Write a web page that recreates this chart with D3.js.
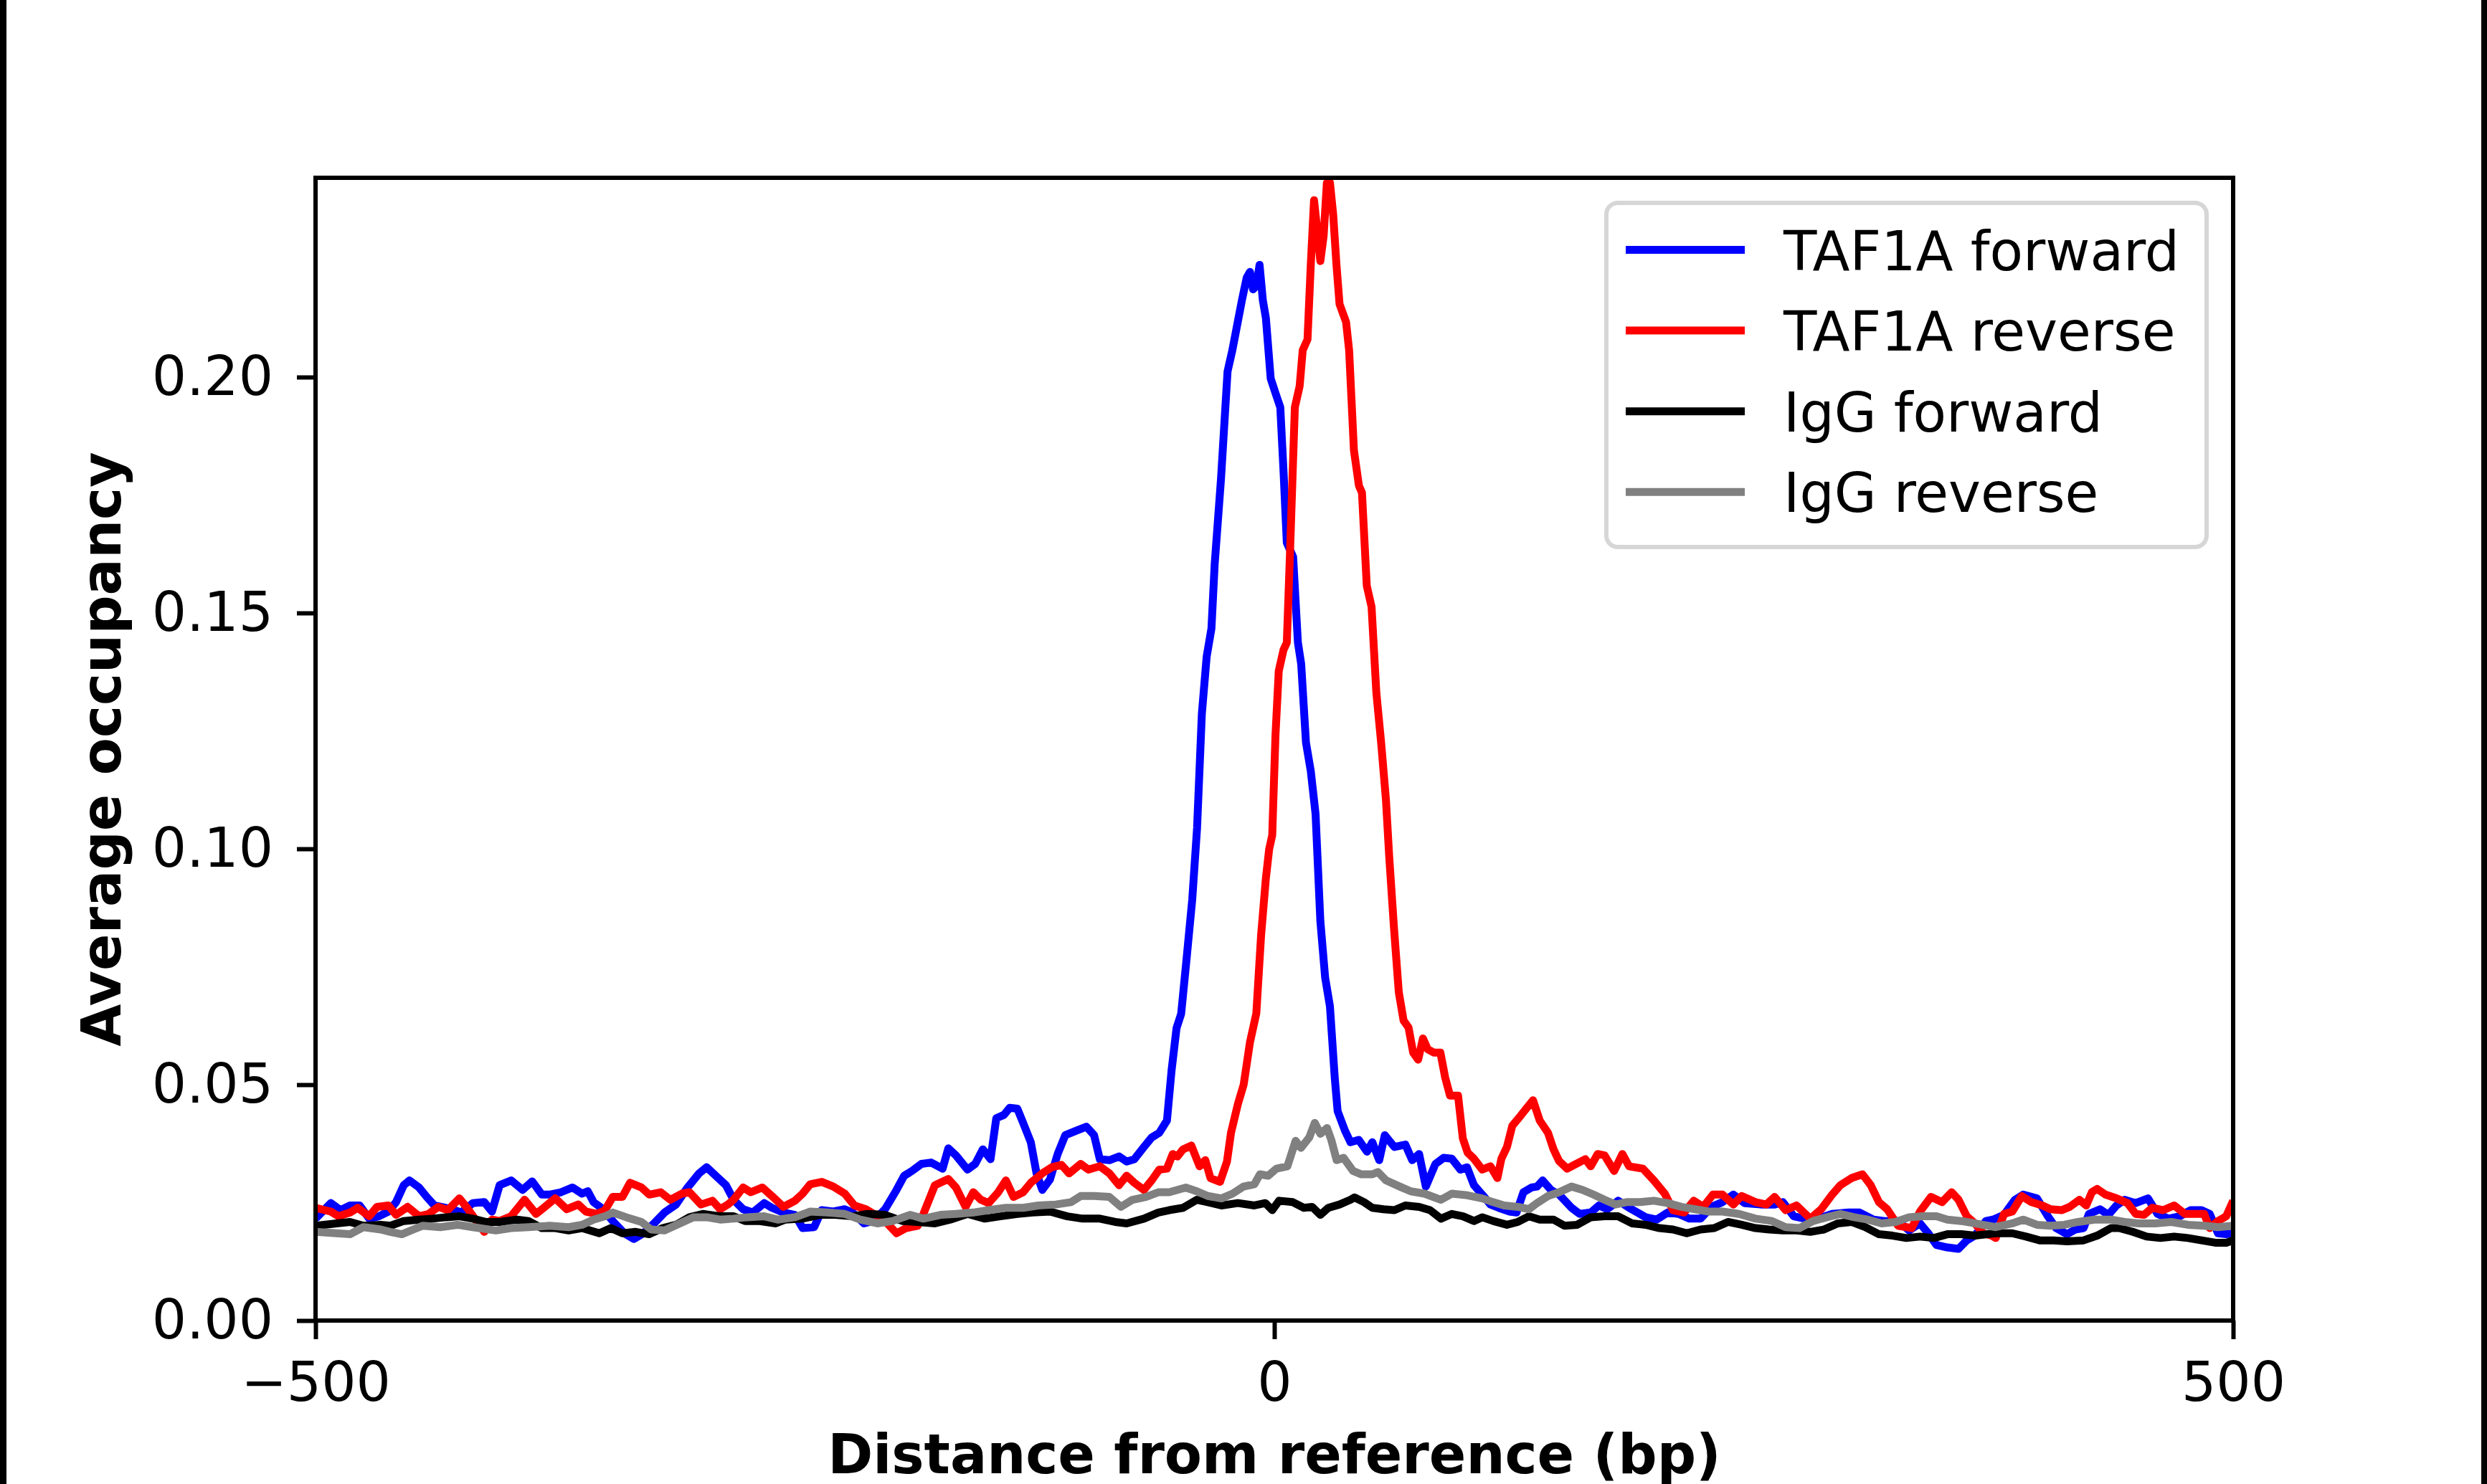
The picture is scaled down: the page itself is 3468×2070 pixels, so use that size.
<!DOCTYPE html>
<html>
<head>
<meta charset="utf-8">
<script src="https://cdn.jsdelivr.net/npm/d3@7"></script>
<style>
  body { margin: 0; background: #fff; }
  text { font-family: "DejaVu Sans", sans-serif; }
</style>
</head>
<body>
<div id="chart-area"></div>
<script>

// TAF1A forward (blue)
var taf1aFwdBp = [-500,-492,-487,-482,-477,-472,-467,-462,-458,-454,-451,-446,-442,-438,-429,-424,-418,-412,-408,-404,-398,-392,-387,-382,-378,-372,-366,-361,-358,-355,-351,-345,-339,-334,-329,-323,-318,-312,-306,-300,-296,-290,-286,
  -282,-277,-272,-266,-262,-256,-250,-246,-240,-236,-230,-224,-220,-214,-209,-203,-197,-193,-189,-184,-179,-173,-170,-166,-160,-156,-152,-148,-145,-141,-138,-134,-131,-127,-124,-121,-117,-113,-109,-103,-98,-94,-91,-86,-81,-77,-73,-68,-64,-60,
  -56,-53.6,-51,-48.6,-46,-42.8,-40.3,-37.8,-35.3,-32.8,-31.1,-27.8,-24.4,-21.9,-19.4,-16.9,-14.4,-12.7,-11.1,-9.4,-7.7,-6,-4.4,-1.9,0.6,3.1,4.8,6.5,9.8,12.3,14,16.5,19,21.5,24,26.5,29,31.5,
  33,36.8,39.7,44,48.3,51.1,54.7,57.6,62.6,68.3,71.9,75.5,79,84,88.3,92.6,97,100.5,104.1,108.4,112.7,117,122.7,126.3,129.9,134.1,137,139.9,144.2,148.5,
  155,159.3,165,169.3,173.6,179.3,185,189.3,193.6,199.4,205.1,210.8,216.5,222.3,228,233.7,239.4,245.2,253.7,260.9,265.2,270.9,276.6,283.8,290.9,299.5,305.2,312.4,318.1,325.3,331,336.7,341,345.3,351,356.8,361.1,365.3,371.1,
  374.8,380.5,386.2,390.5,397.7,403.4,407.7,413.4,417.7,422,424.8,430.6,434.9,439.2,443.4,449.2,455.6,460.6,466.3,472.1,477.8,483.5,487.8,492.1,496.4,500];
var taf1aFwdOcc = [0.0216,0.0249,0.0234,0.0244,0.0244,0.0216,0.0221,0.0231,0.0251,0.0287,0.0297,0.0282,0.0262,0.0244,0.0236,0.0229,0.0249,0.0251,0.0231,0.0287,0.0297,0.0277,0.0295,0.0267,0.0267,0.0272,0.0282,0.0269,0.0274,0.0251,0.0239,0.0211,0.0185,0.0173,0.0185,0.0208,0.0229,0.0246,0.0282,0.0312,0.0325,0.0302,0.0287,
  0.0256,0.0236,0.0229,0.0249,0.0239,0.0229,0.0224,0.0196,0.0198,0.0234,0.0231,0.0236,0.0229,0.0206,0.0211,0.0236,0.0277,0.0307,0.0317,0.0332,0.0335,0.0322,0.0365,0.0350,0.0320,0.0332,0.0363,0.0342,0.0429,0.0436,0.0451,0.0449,0.0419,0.0378,0.0312,0.0277,0.0299,0.0353,0.0393,0.0403,0.0411,0.0393,0.0342,0.0340,0.0348,0.0337,0.0342,0.0368,0.0388,0.0398,
  0.0424,0.0530,0.0620,0.0650,0.0757,0.0893,0.1044,0.1286,0.1407,0.1467,0.1604,0.1785,0.2012,0.2057,0.2110,0.2163,0.2211,0.2223,0.2186,0.2193,0.2238,0.2163,0.2125,0.1997,0.1966,0.1936,0.1800,0.1649,0.1619,0.1437,0.1392,0.1225,0.1165,0.1074,0.0847,0.0727,0.0666,0.0515,
  0.0444,0.0403,0.0378,0.0383,0.0358,0.0378,0.0340,0.0393,0.0368,0.0373,0.0340,0.0353,0.0284,0.0332,0.0345,0.0343,0.0320,0.0325,0.0287,0.0267,0.0246,0.0239,0.0231,0.0229,0.0272,0.0282,0.0284,0.0297,0.0277,0.0267,
  0.0239,0.0226,0.0229,0.0244,0.0236,0.0254,0.0239,0.0229,0.0219,0.0214,0.0229,0.0226,0.0216,0.0216,0.0241,0.0251,0.0267,0.0249,0.0246,0.0246,0.0251,0.0221,0.0216,0.0216,0.0226,0.0229,0.0229,0.0214,0.0211,0.0211,0.0191,0.0206,0.0185,0.0160,0.0155,0.0152,0.0170,0.0180,0.0211,
  0.0214,0.0224,0.0256,0.0267,0.0259,0.0221,0.0196,0.0183,0.0193,0.0196,0.0226,0.0236,0.0224,0.0244,0.0256,0.0249,0.0259,0.0226,0.0216,0.0221,0.0234,0.0234,0.0226,0.0185,0.0183,0.0185];

// TAF1A reverse (red)
var taf1aRevBp = [-500,-492,-488,-482,-478,-472,-468,-462,-458,-452,-446,-441,-436,-431,-425,-421,-416,-412,-408,-404,-398,-391,-385,-381,-375,-369,-363,-359,-353,-349,-345,-340,-336,-330,-326,-320,-315,-309,-305,-299,-293,-289,-285,
  -282,-277,-273,-267,-262,-256,-250,-246,-242,-236,-230,-224,-219,-213,-209,-203,-197,-192,-186,-183,-177,-170,-166,-161,-157,-153,-149,-144,-140,-136,-131,-127,-121,-116,-111,-107,-101,-97,-91,-86,-81,-77,-73,-68,-64,-60,
  -56,-53,-50.5,-47.6,-43.3,-39,-36,-33.3,-28.3,-24.7,-22.6,-19,-16,
  -12.7,-9.4,-6.9,-4.4,-2.7,-1.1,0.6,2.3,4.8,6.5,8.1,10.7,13.2,14.8,17.3,19,20.7,22.3,24,25.7,27.4,29,30.7,32.4,34,37.4,39,41.5,44.1,45.7,48.2,50.7,53.2,55.7,58.2,59.9,62.4,64.9,67.4,70,72.4,75,77.5,80,83.3,86.6,89.1,91.6,95.8,98.3,100.8,
  104.1,108.4,112.7,116.3,118.4,121.3,124.1,128.4,131.3,134.9,138.4,142.7,145.6,148.5,152.7,
  156.4,162.2,165,168.6,172.2,177.2,181.5,185,192.2,197.9,203.6,207.9,213.7,218.7,223.7,228.7,233.7,239.4,243.7,250.9,256.6,260.9,266.6,272.3,279.5,285.2,290.9,295.2,301,306.7,311,315.3,319.6,325.3,332.4,336.7,342.4,348.2,353.2,356.8,361.1,365.3,369.6,374,
  376.2,380.5,384.8,389.8,394.8,400.5,404.8,410.5,414.8,419.8,423.4,426.3,429.1,433.4,439.2,444.9,449.2,453.5,457.8,463.5,469.2,474.9,480.7,484.9,487.8,492.1,496.4,500];
var taf1aRevOcc = [0.0239,0.0231,0.0221,0.0229,0.0239,0.0221,0.0241,0.0244,0.0224,0.0241,0.0221,0.0226,0.0241,0.0234,0.0259,0.0239,0.0211,0.0188,0.0214,0.0211,0.0221,0.0256,0.0226,0.0239,0.0259,0.0236,0.0246,0.0231,0.0226,0.0234,0.0262,0.0262,0.0292,0.0282,0.0267,0.0272,0.0256,0.0269,0.0272,0.0246,0.0254,0.0236,0.0246,
  0.0256,0.0282,0.0272,0.0282,0.0264,0.0241,0.0254,0.0269,0.0289,0.0294,0.0284,0.0269,0.0244,0.0236,0.0226,0.0211,0.0185,0.0196,0.0201,0.0226,0.0287,0.0300,0.0282,0.0241,0.0272,0.0256,0.0249,0.0272,0.0297,0.0262,0.0272,0.0292,0.0312,0.0325,0.0330,0.0312,0.0332,0.0320,0.0327,0.0312,0.0287,0.0307,0.0292,0.0277,0.0297,0.0320,
  0.0322,0.0353,0.0348,0.0363,0.0371,0.0327,0.0340,0.0302,0.0294,0.0337,0.0398,0.0459,0.0500,
  0.0590,0.0651,0.0817,0.0938,0.0999,0.1029,0.1241,0.1377,0.1422,0.1437,0.1619,0.1936,0.1981,0.2057,0.2080,0.2238,0.2375,0.2314,0.2246,0.2299,0.2412,0.2412,0.2344,0.2238,0.2155,0.2117,0.2057,0.1845,0.1770,0.1755,0.1558,0.1513,0.1331,0.1225,0.1104,0.0984,0.0832,0.0696,0.0636,0.0621,0.0568,0.0553,0.0598,0.0575,0.0568,0.0568,0.0515,0.0477,0.0477,0.0386,0.0356,
  0.0343,0.0320,0.0327,0.0302,0.0343,0.0368,0.0413,0.0434,0.0449,0.0467,0.0424,0.0398,0.0363,0.0338,0.0322,
  0.0330,0.0342,0.0327,0.0353,0.0350,0.0317,0.0353,0.0327,0.0322,0.0297,0.0269,0.0234,0.0229,0.0254,0.0241,0.0267,0.0267,0.0246,0.0264,0.0251,0.0246,0.0262,0.0234,0.0244,0.0216,0.0236,0.0267,0.0287,0.0302,0.0310,0.0287,0.0251,0.0236,0.0201,0.0196,0.0231,0.0262,0.0251,0.0272,0.0256,0.0221,0.0206,0.0185,0.0180,
  0.0175,0.0226,0.0231,0.0264,0.0251,0.0244,0.0236,0.0234,0.0241,0.0256,0.0244,0.0272,0.0279,0.0267,0.0259,0.0249,0.0226,0.0224,0.0239,0.0234,0.0244,0.0226,0.0226,0.0226,0.0196,0.0211,0.0221,0.0254];

// IgG forward (black)
var iggFwdBp = [-500,-489,-482,-475,-466,-461,-454,-446,-439,-432,-425,-418,-411,-404,-395,-389,-382,-375,-368,-361,-352,-346,-340,-333,-326,-319,-312,-305,-298,-289,
  -282,-276,-269,-260,-255,-246,-237,-229,-220,-212,-203,-194,-186,-177,-169,-160,-151,-143,-134,-126,-117,-108,-100,-91,-83,-77,-68,
  -60.5,-54.8,-47.6,-40.4,-34.7,-27.6,-19,-10.4,-4.7,-1.1,2.5,9.6,15.4,19.7,24,28.2,34,39.7,41.8,46.8,51.1,56.9,62.6,68.3,75.5,81.2,86.9,92.6,98.4,104.1,108.4,114.1,121.3,127,132.7,138.4,145.6,151.3,
  157.9,165,172.2,179.3,186.5,193.6,200.8,207.9,215.1,222.3,229.4,236.6,243.7,250.9,258,265.2,272.3,279.5,286.6,293.8,301,308.1,315.3,322.4,329.6,336.7,343.9,351,358.2,365.3,
  376.2,384.8,392,399.1,406.3,413.4,422,429.1,436.3,440.6,447.7,454.9,462.1,469.2,476.4,483.5,490.7,496.4,500];
var iggFwdOcc = [0.0201,0.0206,0.0209,0.0201,0.0203,0.0201,0.0211,0.0214,0.0216,0.0219,0.0221,0.0216,0.0209,0.0209,0.0214,0.0211,0.0196,0.0196,0.0191,0.0196,0.0185,0.0196,0.0185,0.0188,0.0183,0.0196,0.0203,0.0219,0.0226,0.0221,
  0.0221,0.0211,0.0211,0.0206,0.0214,0.0216,0.0224,0.0224,0.0221,0.0226,0.0224,0.0211,0.0209,0.0206,0.0214,0.0226,0.0216,0.0221,0.0226,0.0229,0.0231,0.0221,0.0216,0.0216,0.0209,0.0206,0.0216,
  0.0229,0.0234,0.0239,0.0256,0.0251,0.0244,0.0249,0.0244,0.0249,0.0234,0.0254,0.0251,0.0239,0.0241,0.0224,0.0239,0.0246,0.0256,0.0261,0.0251,0.0239,0.0236,0.0234,0.0244,0.0241,0.0234,0.0216,0.0226,0.0221,0.0211,0.0219,0.0211,0.0203,0.0209,0.0221,0.0214,0.0214,0.0201,
  0.0203,0.0219,0.0221,0.0221,0.0206,0.0203,0.0196,0.0193,0.0185,0.0193,0.0196,0.0209,0.0203,0.0196,0.0193,0.0191,0.0191,0.0188,0.0193,0.0206,0.0209,0.0198,0.0183,0.0180,0.0175,0.0178,0.0175,0.0183,0.0183,0.0180,
  0.0185,0.0185,0.0178,0.0170,0.0170,0.0168,0.0170,0.0180,0.0196,0.0196,0.0188,0.0178,0.0175,0.0178,0.0175,0.0170,0.0165,0.0165,0.0170];

// IgG reverse (grey)
var iggRevBp = [-500,-489,-482,-475,-466,-461,-455,-449,-444,-435,-426,-418,-406,-398,-389,-378,-368,-361,-355,-349,-345,-338,-330,-325,-318,-310,-303,-296,-289,
  -282,-275,-266,-259,-250,-242,-233,-224,-216,-207,-199,-190,-183,-174,-166,-157,-149,-140,-131,-123,-114,-106,-101,-94,-86,-80,-74,-67,
  -60.5,-54.8,-46.2,-40.4,-34.7,-27.6,-21.8,-16.1,-10.4,-7.5,-3.2,1.1,6.8,11.1,13.9,18.2,21.1,24,27.5,29.7,32.5,36.1,41.1,45.4,51.1,54,58.3,65.4,71.2,78.3,86.9,92.6,99.8,108.4,114.1,119.8,127,132.7,137,142.7,148.5,
  155,160.7,166.4,172.2,177.9,183.6,190.8,197.9,205.1,212.2,219.4,226.5,233.7,242.3,250.9,259.5,266.6,273.8,281,288.1,295.2,302.4,309.5,316.7,323.9,331,338.2,345.3,351,358.2,365.3,
  376.2,384.8,390.5,397.7,404.8,412,419.1,427.7,436.3,443.4,450.6,459.2,467.8,476.4,485,492.1,500];
var iggRevOcc = [0.0188,0.0185,0.0183,0.0198,0.0193,0.0188,0.0183,0.0193,0.0201,0.0198,0.0203,0.0198,0.0191,0.0196,0.0198,0.0201,0.0198,0.0203,0.0214,0.0221,0.0229,0.0219,0.0209,0.0193,0.0191,0.0206,0.0219,0.0219,0.0214,
  0.0216,0.0219,0.0221,0.0214,0.0219,0.0231,0.0229,0.0226,0.0214,0.0206,0.0211,0.0224,0.0216,0.0224,0.0226,0.0229,0.0234,0.0239,0.0239,0.0244,0.0246,0.0251,0.0264,0.0264,0.0262,0.0241,0.0256,0.0262,
  0.0272,0.0272,0.0282,0.0274,0.0264,0.0259,0.0269,0.0284,0.0289,0.0310,0.0307,0.0322,0.0327,0.0381,0.0366,0.0388,0.0419,0.0396,0.0408,0.0383,0.0340,0.0345,0.0317,0.0310,0.0310,0.0315,0.0297,0.0284,0.0274,0.0269,0.0256,0.0269,0.0266,0.0259,0.0251,0.0244,0.0241,0.0236,0.0249,0.0264,0.0272,
  0.0284,0.0277,0.0267,0.0256,0.0246,0.0251,0.0251,0.0254,0.0249,0.0241,0.0236,0.0231,0.0231,0.0226,0.0216,0.0211,0.0198,0.0196,0.0211,0.0219,0.0226,0.0219,0.0214,0.0206,0.0209,0.0219,0.0221,0.0221,0.0214,0.0211,0.0206,
  0.0198,0.0206,0.0214,0.0203,0.0201,0.0203,0.0209,0.0214,0.0214,0.0209,0.0206,0.0206,0.0209,0.0203,0.0201,0.0198,0.0201];

var seriesNames = ["TAF1A forward", "TAF1A reverse", "IgG forward", "IgG reverse"];
var seriesColors = ["#0000ff", "#ff0000", "#000000", "#808080"];
var yTicks = [0, 0.05, 0.10, 0.15, 0.20];
var xTicks = [-500, 0, 500];

var W = 3468, H = 2070;
var fontPx = 76;
var margin = { left: 440, right: 354, top: 248, bottom: 228 };
var width = W - margin.left - margin.right,
    height = H - margin.top - margin.bottom;

var svg = d3.select("#chart-area")
    .append("svg")
        .attr("width", W)
        .attr("height", H);

svg.append("rect").attr("width", W).attr("height", H).attr("fill", "#fff");
// dark strips at the picture edges
svg.append("rect").attr("x", 0).attr("width", 9).attr("height", H).attr("fill", "#000");
svg.append("rect").attr("x", W - 8).attr("width", 8).attr("height", H).attr("fill", "#000");

var g = svg.append("g")
    .attr("transform", "translate(" + margin.left + "," + margin.top + ")");

// Scales
var x = d3.scaleLinear().domain([-500, 500]).range([0, width]);
var y = d3.scaleLinear().domain([0, 0.24225]).range([height, 0]);

g.append("clipPath").attr("id", "plot-clip")
  .append("rect").attr("width", width).attr("height", height);

var allSeries = [
  d3.zip(taf1aFwdBp, taf1aFwdOcc),
  d3.zip(taf1aRevBp, taf1aRevOcc),
  d3.zip(iggFwdBp, iggFwdOcc),
  d3.zip(iggRevBp, iggRevOcc)
];

var line = d3.line()
    .x(function(d){ return x(d[0]); })
    .y(function(d){ return y(d[1]); });

g.append("g").attr("clip-path", "url(#plot-clip)")
  .selectAll("path")
  .data(allSeries)
  .enter().append("path")
    .attr("d", line)
    .attr("fill", "none")
    .attr("stroke", function(d, i){ return seriesColors[i]; })
    .attr("stroke-width", 11)
    .attr("stroke-linejoin", "round");

// Axes
var yAxisCall = d3.axisLeft(y)
    .tickValues(yTicks)
    .tickFormat(d3.format(".2f"))
    .tickSize(26).tickSizeOuter(0).tickPadding(33);
var yAxis = g.append("g").call(yAxisCall);

var xAxisCall = d3.axisBottom(x)
    .tickValues(xTicks)
    .tickFormat(d3.format("d"))
    .tickSize(26).tickSizeOuter(0).tickPadding(32);
var xAxis = g.append("g").attr("transform", "translate(0," + height + ")").call(xAxisCall);

[xAxis, yAxis].forEach(function(ax){
  ax.select(".domain").remove();
  ax.attr("font-family", "DejaVu Sans").attr("font-size", fontPx);
  ax.selectAll(".tick line").attr("stroke", "#000").attr("stroke-width", 6);
  ax.selectAll(".tick text").attr("fill", "#000");
});

// frame
g.append("rect")
    .attr("width", width).attr("height", height)
    .attr("fill", "none").attr("stroke", "#000").attr("stroke-width", 6);

// Labels
g.append("text")
    .attr("x", width / 2)
    .attr("y", 2055 - margin.top)
    .attr("text-anchor", "middle")
    .attr("font-size", fontPx)
    .attr("font-weight", "bold")
    .text("Distance from reference (bp)");
g.append("text")
    .attr("transform", "rotate(-90)")
    .attr("x", -height / 2)
    .attr("y", 168 - margin.left)
    .attr("text-anchor", "middle")
    .attr("font-size", fontPx)
    .attr("font-weight", "bold")
    .text("Average occupancy");

// Legend
var legend = svg.append("g").attr("transform", "translate(2240,283)");
legend.append("rect")
    .attr("width", 837).attr("height", 480)
    .attr("rx", 16).attr("ry", 16)
    .attr("fill", "#fff").attr("stroke", "#d6d6d6").attr("stroke-width", 6);

seriesNames.forEach(function(name, i) {
  var row = legend.append("g").attr("transform", "translate(0," + (65.5 + i * 112.6) + ")");
  row.append("line")
      .attr("x1", 27).attr("x2", 193)
      .attr("stroke", seriesColors[i]).attr("stroke-width", 11);
  row.append("text")
      .attr("x", 247).attr("y", 28)
      .attr("font-size", fontPx)
      .text(name);
});

</script>
</body>
</html>
